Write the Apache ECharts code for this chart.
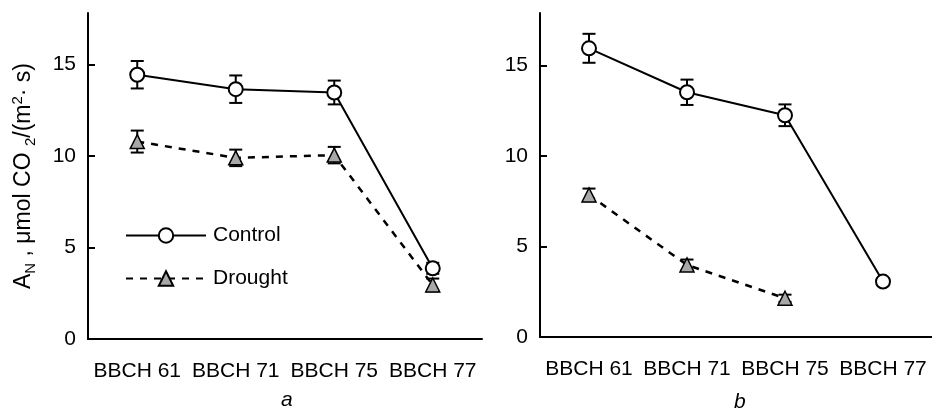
<!DOCTYPE html>
<html>
<head>
<meta charset="utf-8">
<script src="https://cdn.jsdelivr.net/npm/echarts@6/dist/echarts.min.js"></script>
<style>
html,body{margin:0;padding:0;background:#fff;}
#chart{width:932px;height:410px;}
</style>
</head>
<body>
<div id="chart"></div>
<script>
const categories = ['BBCH 61', 'BBCH 71', 'BBCH 75', 'BBCH 77'];
const yTicks = [0, 5, 10, 15];

const controlA = [14.43, 13.64, 13.46, 3.86];
const controlAErr = [0.75, 0.75, 0.65, 0.3];
const droughtA = [10.78, 9.89, 10.04, 2.95];
const droughtAErr = [0.6, 0.45, 0.45, 0.35];

const controlB = [15.95, 13.52, 12.25, 3.06];
const controlBErr = [0.8, 0.7, 0.6, 0.2];
const droughtB = [7.85, 3.98, 2.14, null];
const droughtBErr = [0.35, 0.3, 0.2, null];

const FONT = 'Liberation Sans, Arial, sans-serif';

function errData(vals, errs) {
  const out = [];
  vals.forEach((v, i) => { if (v != null && errs[i] != null) out.push([i, v, errs[i]]); });
  return out;
}

function errSeries(idx, vals, errs) {
  return {
    type: 'custom',
    xAxisIndex: idx, yAxisIndex: idx,
    z: 2,
    silent: true,
    data: errData(vals, errs),
    renderItem: function (params, api) {
      const x = api.value(0), y = api.value(1), e = api.value(2);
      const t = api.coord([x, y + e]);
      const b = api.coord([x, y - e]);
      const hw = 6.5;
      const st = { stroke: '#000', lineWidth: 2 };
      return {
        type: 'group',
        children: [
          { type: 'line', shape: { x1: t[0], y1: t[1], x2: b[0], y2: b[1] }, style: st },
          { type: 'line', shape: { x1: t[0] - hw, y1: t[1], x2: t[0] + hw, y2: t[1] }, style: st },
          { type: 'line', shape: { x1: b[0] - hw, y1: b[1], x2: b[0] + hw, y2: b[1] }, style: st }
        ]
      };
    }
  };
}

function controlSeries(idx, vals) {
  return {
    name: 'Control', type: 'line', xAxisIndex: idx, yAxisIndex: idx, z: 3,
    data: vals, symbol: 'circle', symbolSize: 14,
    lineStyle: { color: '#000', width: 2, type: 'solid' },
    itemStyle: { color: '#fff', borderColor: '#000', borderWidth: 2 },
    emphasis: { disabled: true }
  };
}
function droughtSeries(idx, vals) {
  return {
    name: 'Drought', type: 'line', xAxisIndex: idx, yAxisIndex: idx, z: 3,
    data: vals, symbol: 'triangle', symbolSize: 14,
    lineStyle: { color: '#000', width: 2.5, type: [7, 7] },
    itemStyle: { color: '#a8a8a8', borderColor: '#000', borderWidth: 1.5 },
    emphasis: { disabled: true }
  };
}

function xAxis(idx) {
  return {
    type: 'category', gridIndex: idx, data: categories, boundaryGap: true,
    axisLine: { lineStyle: { color: '#000', width: 2 } },
    axisTick: { inside: true, length: 7, lineStyle: { color: '#000', width: 2 }, interval: 0 },
    axisLabel: { interval: 0, color: '#000', fontSize: 21, fontFamily: FONT, margin: 22 },
    splitLine: { show: false }
  };
}
function yAxis(idx, max, withName) {
  const ax = {
    type: 'value', gridIndex: idx, min: 0, max: max,
    axisLine: { show: true, lineStyle: { color: '#000', width: 2 } },
    axisTick: { show: true, inside: true, length: 7, lineStyle: { color: '#000', width: 2 }, customValues: yTicks },
    axisLabel: { color: '#000', fontSize: 21, fontFamily: FONT, margin: 12, customValues: yTicks },
    splitLine: { show: false }
  };
  if (withName) {
    ax.name = '{a|A}{s|N}{a| , μmol CO }{s|2}{a|/(m}{p|2}{a|· s)}';
    ax.nameLocation = 'middle';
    ax.nameGap = 50;
    ax.nameRotate = 90;
    ax.nameTextStyle = {
      color: '#000', fontFamily: FONT,
      rich: {
        a: { fontSize: 23, fontFamily: FONT, color: '#000', verticalAlign: 'middle', lineHeight: 28 },
        s: { fontSize: 15, fontFamily: FONT, color: '#000', verticalAlign: 'bottom', lineHeight: 28 },
        p: { fontSize: 15, fontFamily: FONT, color: '#000', verticalAlign: 'top', lineHeight: 28 }
      }
    };
  }
  return ax;
}

const chart = echarts.init(document.getElementById('chart'), null, { renderer: 'canvas' });
chart.setOption({
  backgroundColor: '#fff',
  animation: false,
  grid: [
    { left: 88, top: 13, width: 394, height: 326 },
    { left: 540, top: 13, width: 398, height: 324 }
  ],
  xAxis: [xAxis(0), xAxis(1)],
  yAxis: [yAxis(0, 17.8, true), yAxis(1, 17.9, false)],
  legend: {
    data: ['Control', 'Drought'],
    orient: 'vertical', left: 125, top: 225, itemGap: 22, padding: 0,
    itemWidth: 80, itemHeight: 18, selectedMode: false,
    textStyle: { fontSize: 21, fontFamily: FONT, color: '#000', padding: [0, 0, 0, 2] }
  },
  graphic: [
    { type: 'text', left: 281, top: 390, style: { text: 'a', font: 'italic 21px ' + FONT, fill: '#000' } },
    { type: 'text', left: 734, top: 392, style: { text: 'b', font: 'italic 21px ' + FONT, fill: '#000' } }
  ],
  series: [
    errSeries(0, controlA, controlAErr),
    errSeries(0, droughtA, droughtAErr),
    controlSeries(0, controlA),
    droughtSeries(0, droughtA),
    errSeries(1, controlB, controlBErr),
    errSeries(1, droughtB, droughtBErr),
    controlSeries(1, controlB),
    droughtSeries(1, droughtB)
  ]
});
</script>
</body>
</html>
